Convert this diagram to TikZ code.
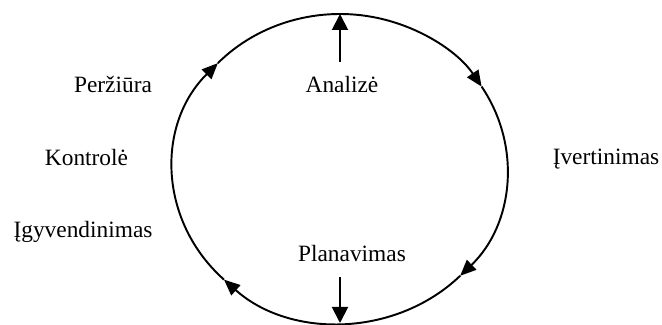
\documentclass[tikz,border=0pt]{standalone}
\usepackage{fontspec}
\setmainfont{Liberation Serif}
\usepackage{tikz}
\usetikzlibrary{arrows.meta, positioning, calc}
\tikzset{
  label/.style={anchor=base, inner sep=0pt, font=\fontsize{13.3}{16}\selectfont},
  cycle/.style={line width=1.1pt, -{Triangle[length=0.32cm, width=0.27cm]}},
  arrow/.style={line width=1.1pt, -{Triangle[length=0.32cm, width=0.32cm]}}
}

\begin{document}
\begin{tikzpicture}
  \useasboundingbox (0,0) rectangle (13.24,6.5);
  % Cycle
  \coordinate (c) at (6.8, 3.13);
  \coordinate (top) at (6.8, 6.22);
  \coordinate (bot) at (6.8, 0.04);
  \draw[cycle] ($(c)+(137:3.34 and 3.09)$) arc[start angle=137, end angle=32, x radius=3.34, y radius=3.09];
  \draw[cycle] ($(c)+(32:3.34 and 3.09)$) arc[start angle=32, end angle=-44, x radius=3.34, y radius=3.09];
  \draw[cycle] ($(c)+(-44:3.34 and 3.09)$) arc[start angle=-44, end angle=-134, x radius=3.34, y radius=3.09];
  \draw[cycle] ($(c)+(-134:3.34 and 3.09)$) arc[start angle=-134, end angle=-223, x radius=3.34, y radius=3.09];

  % Labels
  \node[label] (ana) at (6.84, 4.64) {Analizė};
  \node[label] (plan) at (7.04, 1.26) {Planavimas};
  \node[label] (per) at (2.26, 4.64) {Peržiūra};
  \node[label] (kon) at (1.73, 3.18) {Kontrolė};
  \node[label] (igy) at (1.66, 1.74) {Įgyvendinimas};
  \node[label] (ive) at (12.12, 3.20) {Įvertinimas};

  % Arrows in and out
  \coordinate (anaup) at (6.8, 5.26);
  \coordinate (plandown) at (6.8, 0.96);
  \draw[arrow] (anaup) -- (top);
  \draw[arrow] (plandown) -- (bot);
\end{tikzpicture}
\end{document}
